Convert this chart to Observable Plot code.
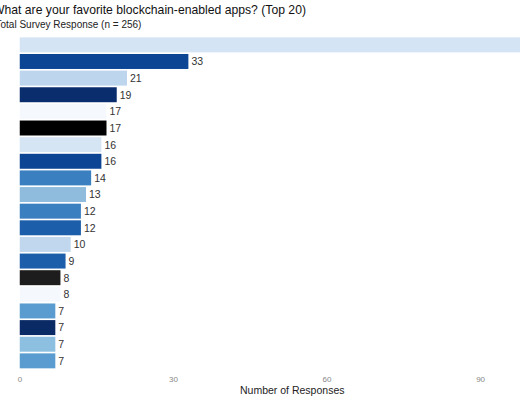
<!DOCTYPE html>
<html>
<head>
<meta charset="utf-8">
<script src="https://cdn.jsdelivr.net/npm/d3@7"></script>
<script src="https://cdn.jsdelivr.net/npm/@observablehq/plot@0.6"></script>
<style>
  html, body { margin: 0; padding: 0; background: #fff; overflow: hidden; }
  body { width: 520px; height: 400px; font-family: "Liberation Sans", Arial, sans-serif; }
  #head { position: relative; height: 32px; }
  #title { position: absolute; left: -7px; top: 3px; font-size: 12.2px; color: #111; white-space: nowrap; }
  #subtitle { position: absolute; left: -4.5px; top: 18.5px; font-size: 10px; color: #222; white-space: nowrap; }
  #chart svg { display: block; }
</style>
</head>
<body>
<div id="head">
  <div id="title">What are your favorite blockchain-enabled apps? (Top 20)</div>
  <div id="subtitle">Total Survey Response (n = 256)</div>
</div>
<div id="chart"></div>
<script>
const apps = ["App 1","App 2","App 3","App 4","App 5","App 6","App 7","App 8","App 9","App 10",
              "App 11","App 12","App 13","App 14","App 15","App 16","App 17","App 18","App 19","App 20"];
const responses = [104, 33, 21, 19, 17, 17, 16, 16, 14, 13, 12, 12, 10, 9, 8, 8, 7, 7, 7, 7];
const barColors = ["#d5e4f4","#0c4594","#bdd5ed","#0a2d6e","#f5f9fe","#000000","#d6e5f4","#0c4594","#3a80c0","#8fbcdd",
                   "#3a7fbf","#1c5eaa","#c0d7ee","#1c5eaa","#1d1d1d","#f5f9fe","#5a9ccf","#0a2a66","#8dbfe0","#5a9ccf"];
const xTicks = [0, 30, 60, 90];
const xLabel = "Number of Responses";

const data = apps.map((a, i) => ({app: a, value: responses[i], color: barColors[i]}));

const chart = Plot.plot({
  width: 520,
  height: 368,
  marginLeft: 19.5,
  marginRight: 0,
  marginTop: 3.7,
  marginBottom: 30,
  style: {fontFamily: "Liberation Sans, Arial, sans-serif", background: "#fff"},
  x: {domain: [0, 97.8]},
  y: {domain: apps, padding: 0.1, round: false, axis: null},
  color: {type: "identity"},
  marks: [
    Plot.barX(data, {x: "value", y: "app", fill: "color", clip: true}),
    Plot.text(data, {x: "value", y: "app", text: d => String(d.value), dx: 2.5, textAnchor: "start",
                     fontSize: 10.5, fill: "#333", clip: true}),
    Plot.axisX({ticks: xTicks, tickSize: 0, tickPadding: 5.5, fontSize: 8, fill: "#888", label: null}),
    Plot.text([xLabel], {text: d => d, frameAnchor: "bottom", dy: 23, dx: 22, fontSize: 10.5, fill: "#222"})
  ]
});
document.getElementById("chart").appendChild(chart);
</script>
</body>
</html>
